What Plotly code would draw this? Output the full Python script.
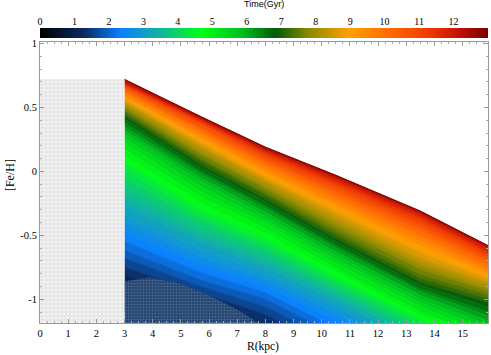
import numpy as np
import plotly.graph_objects as go
from plotly.colors import sample_colorscale

r_nodes = [3, 5.7, 8, 10.5, 13.5, 15.9]

# time of each gradient line (Gyr)
times = [0.5,
         1.0, 1.25, 1.5, 1.75, 2.0, 2.25, 2.5, 2.75, 3.0, 3.25, 3.5, 3.75,
         4.0, 4.25, 4.5, 4.75, 5.0, 5.25, 5.5, 5.75, 6.0, 6.25, 6.5, 6.75,
         7.0, 7.25, 7.5, 7.75, 8.0, 8.25, 8.5, 8.75, 9.0, 9.25, 9.5, 9.75,
         10.0, 10.25, 10.5, 10.75, 11.0, 11.25, 11.5, 11.75, 12.0, 12.25, 12.5, 12.75,
         12.95]

# [Fe/H] of each time line at every radius node
feh_r3 = [-1.10,
          -0.88, -0.81, -0.75, -0.68, -0.62, -0.55, -0.48, -0.41, -0.35, -0.27, -0.20, -0.13,
          -0.06, 0.01, 0.07, 0.12, 0.17, 0.22, 0.26, 0.29, 0.32, 0.35, 0.38, 0.41,
          0.43, 0.45, 0.47, 0.49, 0.51, 0.53, 0.54, 0.56, 0.57, 0.58, 0.59, 0.61,
          0.62, 0.63, 0.64, 0.65, 0.66, 0.67, 0.68, 0.685, 0.69, 0.70, 0.71, 0.715,
          0.72]
feh_r57 = [-1.30,
           -1.06, -1.00, -0.95, -0.90, -0.85, -0.79, -0.73, -0.67, -0.61, -0.55, -0.50, -0.44,
           -0.39, -0.35, -0.30, -0.25, -0.20, -0.16, -0.12, -0.08, -0.05, -0.02, 0.00, 0.03,
           0.05, 0.08, 0.10, 0.13, 0.15, 0.18, 0.20, 0.22, 0.24, 0.26, 0.28, 0.30,
           0.31, 0.33, 0.34, 0.36, 0.37, 0.38, 0.39, 0.40, 0.41, 0.415, 0.42, 0.425,
           0.43]
feh_r8 = [-1.50,
          -1.26, -1.19, -1.12, -1.06, -1.00, -0.95, -0.90, -0.85, -0.80, -0.75, -0.70, -0.65,
          -0.61, -0.57, -0.53, -0.49, -0.45, -0.41, -0.38, -0.35, -0.32, -0.29, -0.27, -0.24,
          -0.22, -0.19, -0.17, -0.14, -0.12, -0.09, -0.07, -0.05, -0.03, -0.01, 0.01, 0.03,
          0.05, 0.065, 0.08, 0.095, 0.11, 0.125, 0.14, 0.15, 0.16, 0.17, 0.18, 0.185,
          0.19]
feh_r105 = [-1.80,
            -1.55, -1.47, -1.40, -1.34, -1.28, -1.22, -1.16, -1.11, -1.06, -1.01, -0.97, -0.93,
            -0.90, -0.86, -0.83, -0.79, -0.76, -0.72, -0.69, -0.66, -0.63, -0.60, -0.58, -0.55,
            -0.53, -0.50, -0.47, -0.44, -0.41, -0.38, -0.35, -0.32, -0.30, -0.27, -0.25, -0.22,
            -0.20, -0.18, -0.16, -0.14, -0.12, -0.105, -0.09, -0.075, -0.06, -0.05, -0.04, -0.035,
            -0.03]
feh_r135 = [-2.20,
            -1.90, -1.82, -1.75, -1.68, -1.62, -1.56, -1.50, -1.45, -1.40, -1.35, -1.31, -1.27,
            -1.23, -1.19, -1.16, -1.13, -1.10, -1.06, -1.03, -1.00, -0.97, -0.94, -0.92, -0.89,
            -0.87, -0.84, -0.81, -0.77, -0.74, -0.71, -0.68, -0.64, -0.61, -0.58, -0.55, -0.52,
            -0.50, -0.47, -0.45, -0.43, -0.41, -0.39, -0.37, -0.355, -0.34, -0.33, -0.32, -0.315,
            -0.31]
feh_r159 = [-2.50,
            -2.15, -2.07, -2.00, -1.94, -1.88, -1.82, -1.76, -1.71, -1.66, -1.61, -1.57, -1.52,
            -1.48, -1.44, -1.40, -1.36, -1.32, -1.28, -1.24, -1.20, -1.17, -1.13, -1.10, -1.06,
            -1.03, -1.00, -0.97, -0.94, -0.92, -0.89, -0.87, -0.84, -0.82, -0.80, -0.78, -0.76,
            -0.74, -0.72, -0.70, -0.685, -0.67, -0.655, -0.64, -0.625, -0.61, -0.60, -0.59, -0.585,
            -0.58]

# hatched early-time region and the grey inner region
hatch_r = [3, 3.9, 5.0, 6.0, 7.0, 8.2, 3]
hatch_feh = [-0.86, -0.83, -0.88, -0.97, -1.08, -1.25, -1.25]
inner_r = [0, 0, 3, 3]
inner_feh = [-1.25, 0.72, 0.72, -1.25]

tmax = 13.0
cb_ticks = list(range(0, 13))

colorscale = [
    [0.0, '#000000'], [0.10, '#0b2b62'], [0.18, '#0a80ff'], [0.25, '#12a8b4'],
    [0.36, '#00ff14'], [0.45, '#00c020'], [0.525, '#005a08'], [0.60, '#8a8a00'],
    [0.69, '#ffa000'], [0.78, '#ff6a00'], [0.87, '#f03800'], [0.93, '#c81400'],
    [1.0, '#7a0000']]

lines = list(zip(feh_r3, feh_r57, feh_r8, feh_r105, feh_r135, feh_r159))

fig = go.Figure()

# one filled band between consecutive time lines
for i, t in enumerate(times):
    y = list(lines[i])
    if i == 0:
        fig.add_trace(go.Scatter(x=r_nodes, y=y, mode='lines', line=dict(width=0),
                                 showlegend=False, hoverinfo='skip'))
    else:
        c = sample_colorscale(colorscale, (times[i - 1] + t) / 2 / tmax)[0]
        fig.add_trace(go.Scatter(x=r_nodes, y=y, mode='lines', line=dict(width=1, color=c),
                                 fill='tonexty', fillcolor=c, showlegend=False, hoverinfo='skip'))

fig.add_trace(go.Scatter(x=hatch_r, y=hatch_feh, mode='lines', fill='toself', line=dict(width=0),
                         fillcolor='#24456f',
                         fillpattern=dict(shape='+', bgcolor='#24456f', fgcolor='#7592b8',
                                          size=3, solidity=0.3),
                         showlegend=False, hoverinfo='skip'))

fig.add_trace(go.Scatter(x=inner_r, y=inner_feh, mode='lines', fill='toself', line=dict(width=0),
                         fillpattern=dict(shape='.', bgcolor='white', fgcolor='#cfcfcf',
                                          size=4, solidity=0.8),
                         fillcolor='white', showlegend=False, hoverinfo='skip'))

# colour bar drawn as a one-row heatmap on its own axes
tgrid = np.linspace(0, tmax, 400)
fig.add_trace(go.Heatmap(x=tgrid, y=[0], z=[tgrid], colorscale=colorscale, zmin=0, zmax=tmax,
                         showscale=False, xaxis='x2', yaxis='y2', hoverinfo='skip'))

serif = dict(family='Liberation Serif', size=10.5, color='black')

fig.update_layout(
    width=491, height=355, plot_bgcolor='white', paper_bgcolor='white',
    margin=dict(l=40, r=3, t=5, b=32),
    xaxis=dict(range=[0, 15.9], tickvals=list(range(0, 16)), ticks='inside', ticklen=4,
               showgrid=False, zeroline=False, showline=True, linecolor='#999', mirror='allticks',
               tickcolor='#999', tickfont=serif, automargin=False,
               minor=dict(dtick=0.25, ticks='inside', ticklen=2, tickcolor='#aaa')),
    yaxis=dict(range=[-1.186, 1.012], domain=[0, 0.8836],
               tickvals=[-1, -0.5, 0, 0.5, 1], ticktext=['-1', '-0.5', '0', '0.5', '1'],
               ticks='inside', ticklen=4, showgrid=False, zeroline=False, showline=True,
               linecolor='#999', mirror='allticks', tickcolor='#999', tickfont=serif,
               automargin=False,
               minor=dict(dtick=0.1, ticks='inside', ticklen=2, tickcolor='#aaa')),
    xaxis2=dict(range=[0, tmax], domain=[0, 1], anchor='y2', side='top', tickvals=cb_ticks,
                ticks='', showgrid=False, zeroline=False, showline=False, automargin=False,
                tickfont=dict(family='Liberation Serif', size=10, color='black')),
    yaxis2=dict(domain=[0.896, 0.9277], anchor='x2', showticklabels=False, ticks='',
                showgrid=False, zeroline=False, automargin=False),
    annotations=[
        dict(text='Time(Gyr)', x=0.5, y=1.0, xref='paper', yref='paper',
             xanchor='center', yanchor='bottom', yshift=-6, showarrow=False,
             font=dict(family='Liberation Sans', size=9, color='black')),
        dict(text='R(kpc)', x=0.498, y=-0.074, xref='paper', yref='paper',
             xanchor='center', yanchor='middle', showarrow=False,
             font=dict(family='Liberation Serif', size=11.5, color='black')),
        dict(text='[Fe/H]', x=-0.067, y=0.465, xref='paper', yref='paper', textangle=-90,
             xanchor='center', yanchor='middle', showarrow=False,
             font=dict(family='Liberation Serif', size=12, color='black')),
    ],
)

# the page body has a default margin; drop it so the figure sits at the window corner
fig.write_html('out.html', config={'displayModeBar': False},
               post_script="document.body.style.margin='0';")
